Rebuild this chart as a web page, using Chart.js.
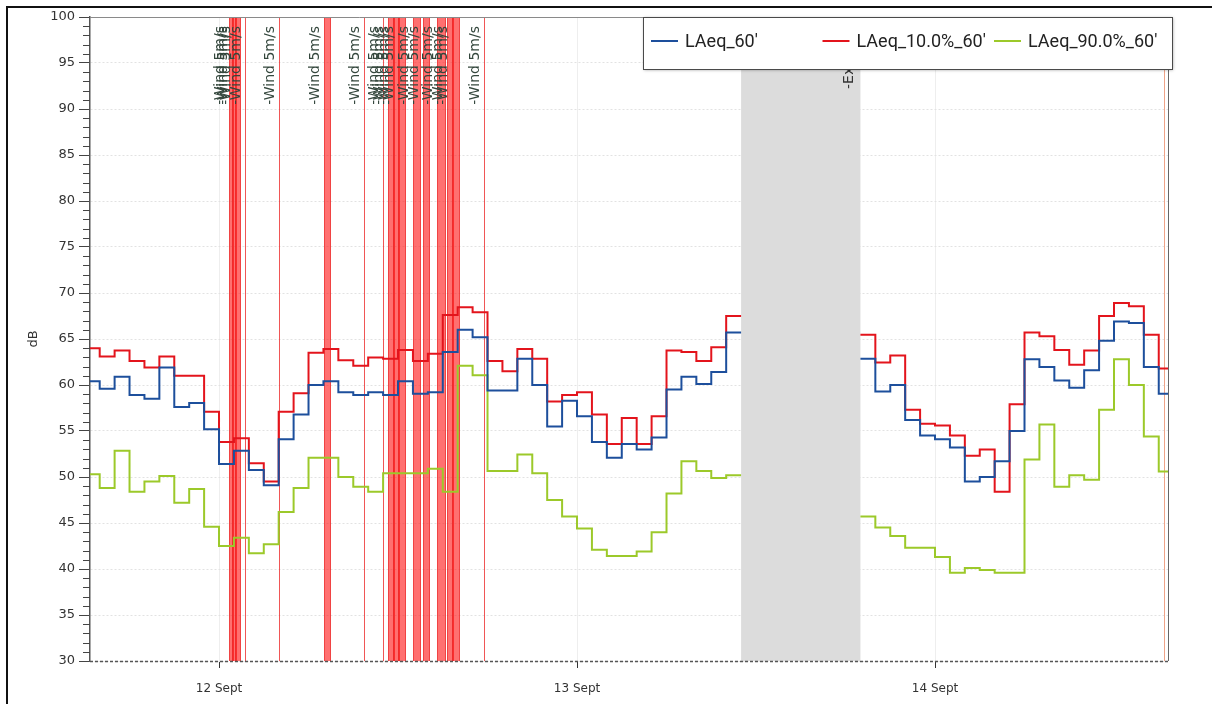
<!DOCTYPE html>
<html lang="en">
<head>
<meta charset="UTF-8">
<title>LAeq 60' levels</title>
<script src="https://cdn.jsdelivr.net/npm/chart.js@4.4.2/dist/chart.umd.min.js"></script>
<style>
  html, body { margin: 0; padding: 0; background: #fff; overflow: hidden; }
  .frame { position: absolute; left: 6px; top: 6px; width: 1230px; height: 730px; border: 2px solid #111; }
  .wrap { position: absolute; left: 0; top: 0; width: 1212px; height: 704px; }
</style>
</head>
<body>
<div class="frame"></div>
<div class="wrap"><canvas id="levels" width="1212" height="704"></canvas></div>
<script>
  // hours counted from 12 Sept 00:00, one value per hour starting at firstHour
  const firstHour = -9;
  const laeq = [
    60.4, 59.6, 60.9, 58.9, 58.5, 61.9, 57.6, 58.05, 55.2,
    51.4, 52.85, 50.75, 49.1, 54.1, 56.8, 60.0, 60.4, 59.2, 58.9, 59.2, 58.9, 60.4,
    59.06, 59.2, 63.6, 66.0, 65.2, 59.4, 59.4, 62.85, 60.0, 55.5, 58.3,
    56.6, 53.8, 52.1, 53.6, 53.0, 54.3, 59.5, 60.9, 60.1, 61.4, 65.7,
    null, null, null, null, null, null, null, null,
    62.85, 59.3, 60.0, 56.2, 54.5, 54.1, 53.2, 49.5, 50.0, 51.7, 55.0,
    62.8, 61.95, 60.5, 59.7, 61.6, 64.8, 66.9, 66.75, 61.95, 59.06
  ];
  const l10 = [
    64.0, 63.1, 63.75, 62.6, 61.9, 63.1, 61.0, 61.0, 57.1,
    53.8, 54.2, 51.5, 49.5, 57.1, 59.1, 63.5, 63.9, 62.7, 62.1, 63.0, 62.85, 63.8,
    62.6, 63.4, 67.6, 68.45, 67.9, 62.6, 61.5, 63.9, 62.85, 58.2, 58.9,
    59.2, 56.8, 53.6, 56.4, 53.6, 56.6, 63.75, 63.6, 62.6, 64.1, 67.5,
    null, null, null, null, null, null, null, null,
    65.45, 62.45, 63.2, 57.3, 55.8, 55.6, 54.5, 52.3, 53.0, 48.4, 57.9,
    65.7, 65.3, 63.8, 62.2, 63.75, 67.5, 68.9, 68.55, 65.45, 61.8
  ];
  const l90 = [
    50.3, 48.8, 52.85, 48.4, 49.5, 50.1, 47.2, 48.7, 44.6,
    42.5, 43.4, 41.7, 42.7, 46.2, 48.8, 52.1, 52.1, 50.0, 48.95, 48.4, 50.4, 50.4,
    50.4, 50.9, 48.4, 62.1, 61.05, 50.65, 50.65, 52.45, 50.4, 47.5, 45.7,
    44.4, 42.1, 41.4, 41.4, 41.9, 44.0, 48.2, 51.7, 50.65, 49.9, 50.2,
    null, null, null, null, null, null, null, null,
    45.7, 44.5, 43.6, 42.3, 42.3, 41.3, 39.6, 40.1, 39.9, 39.6, 39.6,
    51.9, 55.7, 48.95, 50.2, 49.7, 57.3, 62.8, 60.0, 54.4, 50.6
  ];
  const seriesNames = ["LAeq_60'", "LAeq_10.0%_60'", "LAeq_90.0%_60'"];
  const seriesColors = ['#1d4f9c', '#e3141c', '#9cc92a'];

  const dayTicks = [0, 24, 48];
  const dayLabels = ['12 Sept', '13 Sept', '14 Sept'];

  // wind markers [start, end] in hours (start == end -> single line)
  const windEvents = [
    [0.67, 0.94], [0.87, 1.14], [1.07, 1.41], [1.74, 1.74], [4.02, 4.02],
    [7.04, 7.44], [9.72, 9.72], [11.0, 11.0], [11.33, 11.73], [11.66, 12.07],
    [12.0, 12.47], [13.0, 13.47], [13.67, 14.08], [14.61, 15.15], [15.28, 15.69],
    [15.62, 16.09], [17.76, 17.76]
  ];
  const windText = '-Wind 5m/s';
  const excluded = [35, 43];
  const excludedText = '-Excluded';
  const endMarker = 63.35;

  function toSteps(values) {
    const pts = [];
    values.forEach((v, i) => {
      const x = firstHour + i;
      pts.push({ x: x, y: v });
      if (v !== null && (i === values.length - 1 || values[i + 1] === null)) pts.push({ x: x + 1, y: v });
    });
    return pts;
  }

  const markers = {
    id: 'markers',
    beforeDatasetsDraw(chart) {
      const { ctx, chartArea: a, scales: { x } } = chart;
      ctx.save();
      ctx.beginPath();
      ctx.rect(a.left, a.top, a.right - a.left, a.bottom - a.top);
      ctx.clip();
      // excluded period
      const gx0 = x.getPixelForValue(excluded[0]);
      const gx1 = x.getPixelForValue(excluded[1]);
      ctx.fillStyle = '#dcdcdc';
      ctx.fillRect(gx0, a.top, gx1 - gx0, a.bottom - a.top);
      // wind bands
      windEvents.forEach(([s, e]) => {
        const px0 = Math.round(x.getPixelForValue(s)) + 0.5;
        const px1 = Math.round(x.getPixelForValue(e)) + 0.5;
        if (px1 - px0 > 1) {
          ctx.fillStyle = 'rgba(255, 35, 35, 0.65)';
          ctx.fillRect(px0, a.top, px1 - px0, a.bottom - a.top);
        }
        ctx.strokeStyle = 'rgba(235, 30, 30, 0.75)';
        ctx.lineWidth = 1;
        ctx.beginPath();
        ctx.moveTo(px0, a.top); ctx.lineTo(px0, a.bottom);
        if (px1 - px0 > 1) { ctx.moveTo(px1, a.top); ctx.lineTo(px1, a.bottom); }
        ctx.stroke();
      });
      // end marker
      const ex = Math.round(x.getPixelForValue(endMarker)) + 0.5;
      ctx.strokeStyle = '#efa488';
      ctx.beginPath(); ctx.moveTo(ex, a.top); ctx.lineTo(ex, a.bottom); ctx.stroke();
      ctx.restore();
    },
    afterDatasetsDraw(chart) {
      const { ctx, chartArea: a, scales: { x, y } } = chart;
      ctx.save();
      // marker labels
      ctx.font = '14px "DejaVu Sans"';
      ctx.fillStyle = '#34473d';
      ctx.textBaseline = 'bottom';
      windEvents.forEach(([s]) => {
        const px = x.getPixelForValue(s);
        ctx.save();
        ctx.translate(px - 2, a.top + 9);
        ctx.rotate(-Math.PI / 2);
        ctx.textAlign = 'right';
        ctx.fillText(windText, 0, 0);
        ctx.restore();
      });
      ctx.save();
      ctx.fillStyle = '#333';
      ctx.translate(x.getPixelForValue(excluded[1]) - 4, 89);
      ctx.rotate(-Math.PI / 2);
      ctx.textAlign = 'left';
      ctx.fillText(excludedText, 0, 0);
      ctx.restore();
      // frame lines
      ctx.lineWidth = 1;
      ctx.strokeStyle = '#8a8a8a';
      ctx.beginPath(); ctx.moveTo(a.left, a.top + 0.5); ctx.lineTo(a.right, a.top + 0.5); ctx.stroke();
      ctx.strokeStyle = '#666';
      ctx.beginPath(); ctx.moveTo(a.right + 0.5, a.top); ctx.lineTo(a.right + 0.5, a.bottom); ctx.stroke();
      ctx.strokeStyle = '#555';
      ctx.lineWidth = 1.5;
      ctx.setLineDash([3, 2]);
      ctx.beginPath(); ctx.moveTo(a.left, a.bottom + 0.5); ctx.lineTo(a.right, a.bottom + 0.5); ctx.stroke();
      ctx.setLineDash([]);
      // minor ticks on the dB axis
      ctx.lineWidth = 1;
      ctx.strokeStyle = '#444';
      ctx.beginPath();
      for (let v = y.min; v <= y.max; v++) {
        if (v % 5 === 0) continue;
        const py = Math.round(y.getPixelForValue(v)) + 0.5;
        ctx.moveTo(a.left - 7, py); ctx.lineTo(a.left, py);
      }
      ctx.stroke();
      ctx.restore();
    },
    afterDraw(chart) {
      // legend box inside the plot, top right
      const { ctx } = chart;
      const bx = 643, by = 17, bw = 529, bh = 52, col = 171.5;
      ctx.save();
      ctx.shadowColor = 'rgba(0,0,0,0.35)';
      ctx.shadowBlur = 3;
      ctx.shadowOffsetX = 1;
      ctx.shadowOffsetY = 1;
      ctx.fillStyle = '#fff';
      ctx.fillRect(bx, by, bw, bh);
      ctx.shadowColor = 'transparent';
      ctx.strokeStyle = '#4a4a4a';
      ctx.lineWidth = 1;
      ctx.strokeRect(bx + 0.5, by + 0.5, bw, bh);
      ctx.font = '18px Roboto';
      ctx.textBaseline = 'middle';
      ctx.textAlign = 'left';
      chart.data.datasets.forEach((ds, i) => {
        const lx = bx + 8 + i * col;
        ctx.strokeStyle = ds.borderColor;
        ctx.lineWidth = 2;
        ctx.beginPath(); ctx.moveTo(lx, by + 24); ctx.lineTo(lx + 27, by + 24); ctx.stroke();
        ctx.fillStyle = '#222';
        ctx.fillText(ds.label, lx + 34, by + 25);
      });
      ctx.restore();
    }
  };

  new Chart(document.getElementById('levels'), {
    type: 'line',
    data: {
      datasets: [laeq, l10, l90].map((vals, i) => ({
        label: seriesNames[i],
        data: toSteps(vals),
        borderColor: seriesColors[i],
        borderWidth: 2,
        pointRadius: 0,
        stepped: true,
        spanGaps: false,
        fill: false
      }))
    },
    options: {
      responsive: false,
      animation: false,
      devicePixelRatio: 1,
      layout: { padding: { top: 17, right: 44, left: 0, bottom: 0 } },
      plugins: { legend: { display: false }, tooltip: { enabled: false } },
      scales: {
        x: {
          type: 'linear',
          min: -8.65,
          max: 63.62,
          afterBuildTicks: s => { s.ticks = dayTicks.map(v => ({ value: v })); },
          afterFit: s => { s.height = 43; },
          ticks: {
            autoSkip: false,
            maxRotation: 0,
            padding: 14,
            color: '#333',
            font: { family: 'DejaVu Sans', size: 12 },
            callback: (v, i) => dayLabels[i]
          },
          grid: { color: '#eeeeee', tickColor: '#333', tickLength: 7 },
          border: { display: false }
        },
        y: {
          min: 30,
          max: 100,
          afterFit: s => { s.width = 90; },
          ticks: {
            stepSize: 5,
            padding: 4,
            color: '#333',
            font: { family: 'DejaVu Sans', size: 13 }
          },
          grid: { color: '#e2e2e2', tickColor: '#444', tickLength: 11 },
          border: { color: '#555', width: 1.5, dash: [2, 2] },
          title: {
            display: true,
            text: 'dB',
            color: '#333',
            font: { family: 'DejaVu Sans', size: 13 },
            padding: { top: 26, bottom: 0 }
          }
        }
      }
    },
    plugins: [markers]
  });
</script>
</body>
</html>
